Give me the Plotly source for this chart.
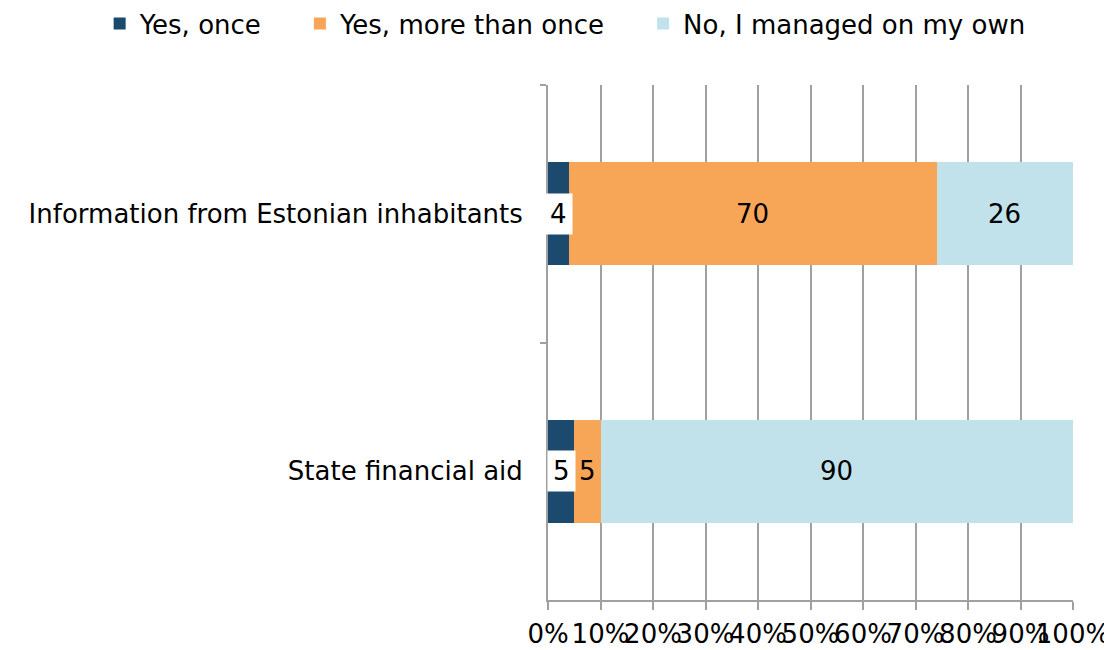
import plotly.graph_objects as go

categories = ["Information from Estonian inhabitants", "State financial aid"]
series_names = ["Yes, once", "Yes, more than once", "No, I managed on my own"]
yes_once = [4, 5]
yes_more = [70, 5]
no_own = [26, 90]
colors = ["#1B4A6E", "#F7A658", "#C1E2EA"]
x_ticks = [0, 10, 20, 30, 40, 50, 60, 70, 80, 90, 100]
x_tick_labels = [f"{t}%" for t in x_ticks]

FONT = "DejaVu Sans, Verdana, sans-serif"
FS = 26
series = [yes_once, yes_more, no_own]
# trailing non-breaking spaces widen the gap between legend entries
legend_pad = ["&nbsp;" * 4, "&nbsp;" * 4, ""]

fig = go.Figure()
for name, vals, col, pad in zip(series_names, series, colors, legend_pad):
    fig.add_trace(go.Bar(
        y=categories, x=vals, name=name + pad, orientation="h",
        marker=dict(color=col, line=dict(width=0)),
        hovertemplate=name + ": %{x}%<extra></extra>",
    ))

# data labels centred in each segment
for ci, cat in enumerate(categories):
    cum = 0
    for si, vals in enumerate(series):
        v = vals[ci]
        mid = cum + v / 2
        cum += v
        fig.add_annotation(
            x=mid, y=cat, text=str(v), showarrow=False,
            font=dict(family=FONT, size=FS, color="#000000"),
            bgcolor="#FFFFFF" if si == 0 else "rgba(0,0,0,0)",
            borderpad=5 if si == 0 else 0,
        )

fig.update_layout(
    barmode="stack",
    bargap=0.6,
    width=1104, height=642,
    margin=dict(l=540, r=39, t=77, b=50, autoexpand=False),
    plot_bgcolor="#FFFFFF", paper_bgcolor="#FFFFFF",
    font=dict(family=FONT, size=FS, color="#000000"),
    legend=dict(
        orientation="h", xref="paper", yref="paper",
        x=-0.854, xanchor="left", y=1.165, yanchor="top",
        font=dict(family=FONT, size=FS, color="#000000"),
        itemwidth=30, tracegroupgap=0,
        traceorder="normal",
    ),
    showlegend=True,
)
fig.update_xaxes(
    range=[0, 100], tickmode="array", tickvals=x_ticks, ticktext=x_tick_labels,
    tickangle=0, showgrid=True, gridcolor="#A0A0A0", gridwidth=2,
    showline=True, linecolor="#A0A0A0", linewidth=2,
    ticks="outside", ticklen=8, tickcolor="#A0A0A0", tickwidth=2,
    zeroline=False, tickfont=dict(family=FONT, size=FS, color="#000000"),
    ticklabelstandoff=2,
)
fig.update_yaxes(
    autorange="reversed", tickson="boundaries",
    ticks="outside", ticklen=6, tickcolor="#A0A0A0", tickwidth=2,
    showline=True, linecolor="#A0A0A0", linewidth=2, showgrid=False,
    tickfont=dict(family=FONT, size=FS, color="#000000"),
    ticklabelstandoff=18,
)

fig.write_html("out.html")
